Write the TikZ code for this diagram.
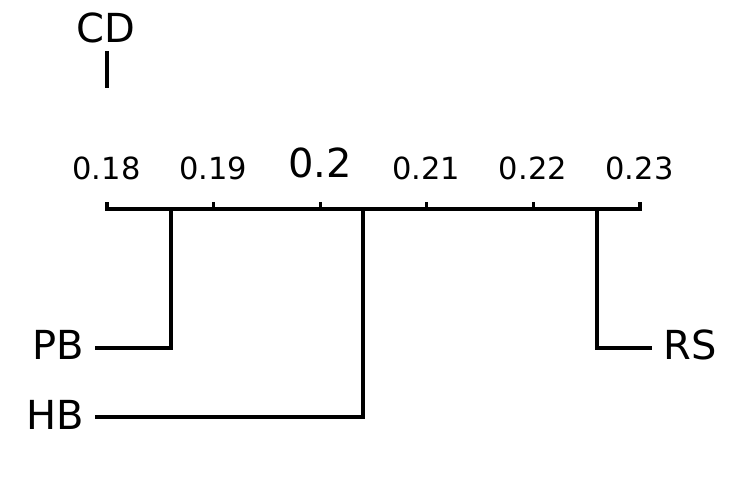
\documentclass[tikz,border=0pt]{standalone}
\usepackage{fontspec}
\setmainfont{DejaVu Sans}
\begin{document}
\begin{tikzpicture}[x=1pt,y=-1pt,
  line/.style={line width=3.3pt,black},
  ticklab/.style={inner sep=0pt,anchor=base,font=\fontsize{30.5}{36}\selectfont},
  biglab/.style={inner sep=0pt,anchor=base,font=\fontsize{40}{48}\selectfont}]
\useasboundingbox (0,0) rectangle (746,487);

% critical difference marker
\node[biglab] (cd) at (106,43) {CD};
\coordinate (cdTop) at (107,51);
\coordinate (cdBot) at (107,88);
\draw[line] (cdTop) -- (cdBot);

% rank axis
\coordinate (axL) at (107,209);
\coordinate (axR) at (640,209);
\draw[line,line cap=butt] ([xshift=-1.65pt]axL) -- ([xshift=1.65pt]axR);
\foreach \i/\x in {0/107,1/213.6,2/320.2,3/426.8,4/533.4,5/640}{
  \coordinate (t\i) at (\x,209);
  \coordinate (tt\i) at (\x,202);
  \draw[line] (t\i) -- (tt\i);
}
\node[ticklab] (l0) at (106.5,179) {0.18};
\node[ticklab] (l1) at (213.1,179) {0.19};
\node[biglab]  (l2) at (320.2,177) {0.2};
\node[ticklab] (l3) at (426.3,179) {0.21};
\node[ticklab] (l4) at (532.9,179) {0.22};
\node[ticklab] (l5) at (639.5,179) {0.23};

% methods
\node[biglab,anchor=base east] (pb) at (84,359) {PB};
\node[biglab,anchor=base east] (hb) at (84,429) {HB};
\node[biglab,anchor=base west] (rs) at (663,359) {RS};

\coordinate (pbA) at (171,209);
\coordinate (pbB) at (95,348);
\coordinate (hbA) at (363,209);
\coordinate (hbB) at (95,417);
\coordinate (rsA) at (597,209);
\coordinate (rsB) at (652,348);

\draw[line] (pbA) |- (pbB);
\draw[line] (hbA) |- (hbB);
\draw[line] (rsA) |- (rsB);
\end{tikzpicture}
\end{document}
